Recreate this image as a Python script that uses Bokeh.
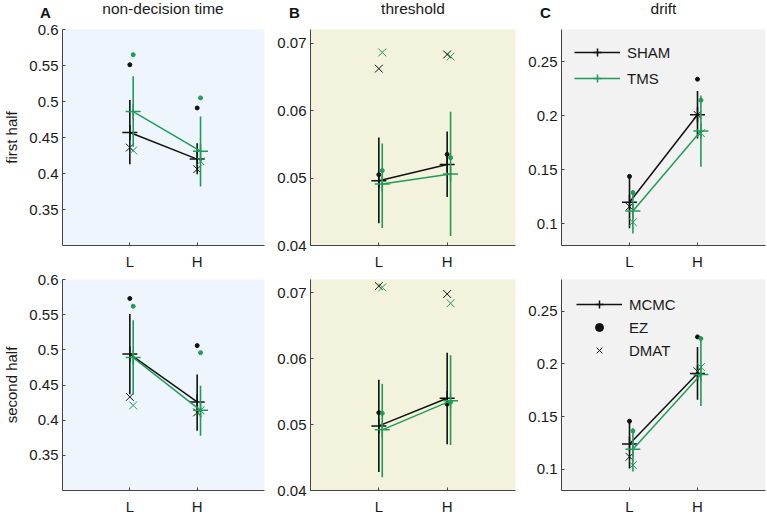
from bokeh.plotting import figure
from bokeh.layouts import gridplot, column
from bokeh.models import FixedTicker, Legend, LegendItem
from bokeh.core.properties import value
from bokeh.embed import file_html
from bokeh.resources import INLINE

# ---------------- data ----------------
conditions = ["L", "H"]
cond_x = [1, 2]
panel_titles = ["non-decision time", "threshold", "drift"]
panel_letters = ["A", "B", "C"]
row_labels = ["first half", "second half"]

ndt_ticks = [0.35, 0.4, 0.45, 0.5, 0.55, 0.6]
ndt_tick_labels = ["0.35", "0.4", "0.45", "0.5", "0.55", "0.6"]
thr_ticks = [0.04, 0.05, 0.06, 0.07]
thr_tick_labels = ["0.04", "0.05", "0.06", "0.07"]
drift_ticks = [0.1, 0.15, 0.2, 0.25]
drift_tick_labels = ["0.1", "0.15", "0.2", "0.25"]

# A: non-decision time, first half
ndt1_sham_mcmc = [0.457, 0.420]
ndt1_sham_lo = [0.413, 0.399]
ndt1_sham_hi = [0.502, 0.442]
ndt1_sham_ez = [0.551, 0.491]
ndt1_sham_dmat = [0.436, 0.406]
ndt1_tms_mcmc = [0.486, 0.431]
ndt1_tms_lo = [0.437, 0.382]
ndt1_tms_hi = [0.535, 0.479]
ndt1_tms_ez = [0.565, 0.505]
ndt1_tms_dmat = [0.432, 0.417]
# A: non-decision time, second half
ndt2_sham_mcmc = [0.494, 0.426]
ndt2_sham_lo = [0.437, 0.385]
ndt2_sham_hi = [0.551, 0.465]
ndt2_sham_ez = [0.573, 0.506]
ndt2_sham_dmat = [0.433, 0.411]
ndt2_tms_mcmc = [0.489, 0.414]
ndt2_tms_lo = [0.436, 0.378]
ndt2_tms_hi = [0.542, 0.449]
ndt2_tms_ez = [0.562, 0.496]
ndt2_tms_dmat = [0.421, 0.414]
# B: threshold, first half
thr1_sham_mcmc = [0.0496, 0.0520]
thr1_sham_lo = [0.0433, 0.0472]
thr1_sham_hi = [0.0560, 0.0569]
thr1_sham_ez = [0.0505, 0.0535]
thr1_sham_dmat = [0.0662, 0.0683]
thr1_tms_mcmc = [0.0491, 0.0506]
thr1_tms_lo = [0.0426, 0.0414]
thr1_tms_hi = [0.0551, 0.0598]
thr1_tms_ez = [0.0511, 0.0530]
thr1_tms_dmat = [0.0686, 0.0680]
# B: threshold, second half
thr2_sham_mcmc = [0.0498, 0.0540]
thr2_sham_lo = [0.0428, 0.0470]
thr2_sham_hi = [0.0568, 0.0609]
thr2_sham_ez = [0.0518, 0.0531]
thr2_sham_dmat = [0.0710, 0.0698]
thr2_tms_mcmc = [0.0492, 0.0536]
thr2_tms_lo = [0.0420, 0.0469]
thr2_tms_hi = [0.0562, 0.0605]
thr2_tms_ez = [0.0517, 0.0534]
thr2_tms_dmat = [0.0708, 0.0684]
# C: drift, first half
drift1_sham_mcmc = [0.120, 0.201]
drift1_sham_lo = [0.096, 0.179]
drift1_sham_hi = [0.145, 0.223]
drift1_sham_ez = [0.144, 0.234]
drift1_sham_dmat = [0.116, 0.201]
drift1_tms_mcmc = [0.112, 0.186]
drift1_tms_lo = [0.091, 0.153]
drift1_tms_hi = [0.131, 0.219]
drift1_tms_ez = [0.129, 0.2145]
drift1_tms_dmat = [0.1015, 0.184]
# C: drift, second half
drift2_sham_mcmc = [0.124, 0.191]
drift2_sham_lo = [0.101, 0.166]
drift2_sham_hi = [0.147, 0.216]
drift2_sham_ez = [0.1457, 0.2256]
drift2_sham_dmat = [0.112, 0.193]
drift2_tms_mcmc = [0.119, 0.190]
drift2_tms_lo = [0.098, 0.160]
drift2_tms_hi = [0.139, 0.224]
drift2_tms_ez = [0.1364, 0.224]
drift2_tms_dmat = [0.104, 0.197]

# ---------------- style / layout ----------------
FONT = "Liberation Sans"
FS = "15px"
BLACK = "#111111"
GREEN = "#1f9d57"
TMS_OFFSET = 0.05
BG = ["#EEF5FC", "#F3F2DC", "#F2F2F2"]
Y_RANGES = [(0.3, 0.6), (0.04, 0.072), (0.08, 0.28)]
TICKS = [(ndt_ticks, ndt_tick_labels), (thr_ticks, thr_tick_labels), (drift_ticks, drift_tick_labels)]

FIG_W = [268, 251, 247]
B_LEFT = [61, 42, 42]
B_RIGHT = [4, 4, 1]
STRIP_H = 20
TITLE_Y = 12.5
LETTER_Y = 8.0
FIG_H = [252, 245]
B_TOP = [9, 7]
B_BOTTOM = [27, 22]
TOTAL_W = sum(FIG_W)

DATA = [
    [
        (ndt1_sham_mcmc, ndt1_sham_lo, ndt1_sham_hi, ndt1_sham_ez, ndt1_sham_dmat,
         ndt1_tms_mcmc, ndt1_tms_lo, ndt1_tms_hi, ndt1_tms_ez, ndt1_tms_dmat),
        (thr1_sham_mcmc, thr1_sham_lo, thr1_sham_hi, thr1_sham_ez, thr1_sham_dmat,
         thr1_tms_mcmc, thr1_tms_lo, thr1_tms_hi, thr1_tms_ez, thr1_tms_dmat),
        (drift1_sham_mcmc, drift1_sham_lo, drift1_sham_hi, drift1_sham_ez, drift1_sham_dmat,
         drift1_tms_mcmc, drift1_tms_lo, drift1_tms_hi, drift1_tms_ez, drift1_tms_dmat),
    ],
    [
        (ndt2_sham_mcmc, ndt2_sham_lo, ndt2_sham_hi, ndt2_sham_ez, ndt2_sham_dmat,
         ndt2_tms_mcmc, ndt2_tms_lo, ndt2_tms_hi, ndt2_tms_ez, ndt2_tms_dmat),
        (thr2_sham_mcmc, thr2_sham_lo, thr2_sham_hi, thr2_sham_ez, thr2_sham_dmat,
         thr2_tms_mcmc, thr2_tms_lo, thr2_tms_hi, thr2_tms_ez, thr2_tms_dmat),
        (drift2_sham_mcmc, drift2_sham_lo, drift2_sham_hi, drift2_sham_ez, drift2_sham_dmat,
         drift2_tms_mcmc, drift2_tms_lo, drift2_tms_hi, drift2_tms_ez, drift2_tms_dmat),
    ],
]


def make_strip():
    """One header strip (pixel units) holding all panel letters and titles."""
    s = figure(width=TOTAL_W, height=STRIP_H, x_range=(0, TOTAL_W), y_range=(0, STRIP_H),
               output_backend="svg", toolbar_location=None,
               x_axis_location=None, y_axis_location=None,
               min_border=0, min_border_left=0, min_border_right=0,
               min_border_top=0, min_border_bottom=0)
    s.outline_line_color = None
    s.background_fill_color = "white"
    s.border_fill_color = "white"
    s.grid.visible = False
    title_x, letter_x = [], []
    start = 0
    for ci in range(3):
        frame_left = start + B_LEFT[ci]
        frame_w = FIG_W[ci] - B_LEFT[ci] - B_RIGHT[ci]
        title_x.append(frame_left + frame_w / 2)
        letter_x.append(frame_left - 16)
        start += FIG_W[ci]
    s.text(x=title_x, y=[TITLE_Y] * 3, text=panel_titles,
           text_align="center", text_baseline="alphabetic",
           text_font=value(FONT), text_font_size="15.5px", text_color="#1a1a1a")
    s.text(x=letter_x, y=[LETTER_Y] * 3, text=panel_letters,
           text_align="center", text_baseline="alphabetic",
           text_font=value(FONT), text_font_size="15px", text_font_style="bold",
           text_color="#111111")
    return s


def draw_group(p, mcmc, lo, hi, ez, dmat, color, off):
    xs = [x + off for x in cond_x]
    p.segment(x0=xs, y0=lo, x1=xs, y1=hi, line_color=color, line_width=1.6)
    ln = p.line(xs, mcmc, line_color=color, line_width=1.5)
    cr = p.scatter(xs, mcmc, marker="cross", size=15, line_color=color, line_width=1.5)
    dt = p.scatter(xs, ez, marker="circle", size=4, line_color=color, fill_color=color)
    xx = p.scatter(xs, dmat, marker="x", size=11, line_color=color, line_width=1)
    return ln, cr, dt, xx


def make_fig(ri, ci):
    p = figure(width=FIG_W[ci], height=FIG_H[ri], x_range=(0, 3), y_range=Y_RANGES[ci],
               output_backend="svg", toolbar_location=None,
               min_border_left=B_LEFT[ci], min_border_right=B_RIGHT[ci],
               min_border_top=B_TOP[ri], min_border_bottom=B_BOTTOM[ri])
    p.background_fill_color = BG[ci]
    p.border_fill_color = "white"
    p.outline_line_color = None
    p.grid.visible = False

    p.xaxis.ticker = FixedTicker(ticks=cond_x)
    p.xaxis.major_label_overrides = {cond_x[i]: conditions[i] for i in range(2)}
    ticks, labels = TICKS[ci]
    p.yaxis.ticker = FixedTicker(ticks=ticks)
    p.yaxis.major_label_overrides = {ticks[i]: labels[i] for i in range(len(ticks))}
    for ax in (p.xaxis[0], p.yaxis[0]):
        ax.axis_line_color = "#444444"
        ax.major_tick_line_color = "#444444"
        ax.major_tick_in = 3
        ax.major_tick_out = 0
        ax.minor_tick_line_color = None
        ax.major_label_text_font = FONT
        ax.major_label_text_font_size = FS
        ax.major_label_text_color = "#1a1a1a"
    p.xaxis.major_label_standoff = 7
    p.yaxis.major_label_standoff = 4
    if ci == 0:
        p.yaxis.axis_label = row_labels[ri]
        p.yaxis.axis_label_text_font = FONT
        p.yaxis.axis_label_text_font_size = FS
        p.yaxis.axis_label_text_font_style = "normal"
        p.yaxis.axis_label_text_color = "#1a1a1a"
        p.yaxis.axis_label_standoff = 6

    d = DATA[ri][ci]
    s_ln, s_cr, s_dt, s_xx = draw_group(p, *d[0:5], BLACK, 0.0)
    t_ln, t_cr, t_dt, t_xx = draw_group(p, *d[5:10], GREEN, TMS_OFFSET)

    if ci == 2:
        if ri == 0:
            items = [LegendItem(label="SHAM", renderers=[s_ln, s_cr]),
                     LegendItem(label="TMS", renderers=[t_ln, t_cr])]
            spacing = 6
            margin = 13
        else:
            items = [LegendItem(label="MCMC", renderers=[s_ln, s_cr]),
                     LegendItem(label="EZ", renderers=[s_dt]),
                     LegendItem(label="DMAT", renderers=[s_xx])]
            spacing = 3
            margin = 15
        leg = Legend(items=items, location="top_left", margin=margin, padding=0,
                     glyph_width=46, glyph_height=20, label_height=20, spacing=spacing,
                     label_standoff=7, background_fill_alpha=0, border_line_color=None,
                     label_text_font=FONT, label_text_font_size=FS,
                     label_text_color="#1a1a1a")
        p.add_layout(leg)
    return p


strip = make_strip()
figs = [[make_fig(ri, ci) for ci in range(3)] for ri in range(2)]
grid = gridplot(figs, toolbar_location=None)
page = column(strip, grid)

open("out.html", "w").write(file_html(page, INLINE))
